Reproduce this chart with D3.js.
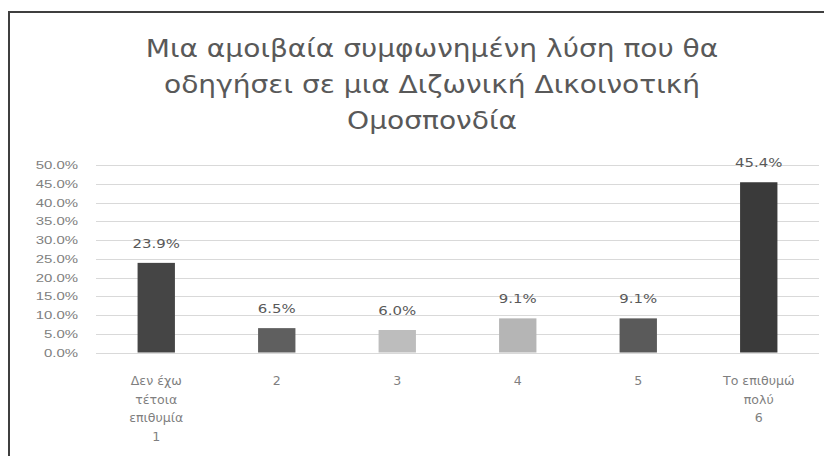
<!DOCTYPE html>
<html>
<head>
<meta charset="utf-8">
<script src="https://cdn.jsdelivr.net/npm/d3@7"></script>
<style>
  body { margin: 0; background: #fff; }
  svg { display: block; font-family: "DejaVu Sans", "Noto Sans", sans-serif; }
</style>
</head>
<body>
<div class="svg-mount"></div>
<script>
const titleLines = [
  "Μια αμοιβαία συμφωνημένη λύση που θα",
  "οδηγήσει σε μια Διζωνική Δικοινοτική",
  "Ομοσπονδία",
];
const categories = [
  ["Δεν έχω", "τέτοια", "επιθυμία", "1"],
  ["2"],
  ["3"],
  ["4"],
  ["5"],
  ["Το επιθυμώ", "πολύ", "6"],
];
const values = [23.9, 6.5, 6.0, 9.1, 9.1, 45.4];
const barColors = ["#454545", "#5f5f5f", "#bdbdbd", "#b5b5b5", "#5a5a5a", "#3a3a3a"];
const yTicks = [0, 5, 10, 15, 20, 25, 30, 35, 40, 45, 50];

const actual_width = 824;
const actual_height = 456;
const plot = { left: 96, right: 819, top: 165, bottom: 352.5 };
// the picture looks stretched sideways, so text is widened a bit
const stretch = 1.3;

const svg = d3
  .select(".svg-mount")
  .append("svg")
  .attr("width", actual_width)
  .attr("height", actual_height);

// chart frame (cropped at right and bottom in the picture)
svg
  .append("rect")
  .attr("x", 9)
  .attr("y", 12)
  .attr("width", 900)
  .attr("height", 500)
  .attr("fill", "#fff")
  .attr("stroke", "#3f3f3f")
  .attr("stroke-width", 2);

const x = d3
  .scaleBand()
  .domain(d3.range(values.length))
  .range([plot.left, plot.right])
  .paddingInner(0.69)
  .paddingOuter(0.345);

const y = d3.scaleLinear().domain([0, 50]).range([plot.bottom, plot.top]);

// title
svg
  .append("g")
  .selectAll("text")
  .data(titleLines)
  .join("text")
  .attr("text-anchor", "middle")
  .attr("fill", "#595959")
  .attr("font-size", 24)
  .attr("transform", (d, i) => `translate(432,${57 + i * 36}) scale(1.17,1)`)
  .text((d) => d);

// gridlines
svg
  .append("g")
  .selectAll("line")
  .data(yTicks)
  .join("line")
  .attr("x1", plot.left)
  .attr("x2", plot.right)
  .attr("y1", (d) => Math.round(y(d)) + 0.5)
  .attr("y2", (d) => Math.round(y(d)) + 0.5)
  .attr("stroke", "#d9d9d9")
  .attr("stroke-width", 1);

// y axis labels
const yAxis = d3
  .axisLeft(y)
  .tickValues(yTicks)
  .tickFormat((d) => d.toFixed(1) + "%")
  .tickSize(0)
  .tickPadding(0);
const yg = svg
  .append("g")
  .attr("transform", `translate(78,0)`)
  .call(yAxis);
yg.select(".domain").remove();
yg.selectAll("text")
  .attr("fill", "#7f7f7f")
  .attr("font-size", 11.5)
  .attr("font-family", "inherit")
  .attr("transform", `scale(${stretch},1)`);

// bars
svg
  .append("g")
  .selectAll("rect")
  .data(values)
  .join("rect")
  .attr("x", (d, i) => x(i))
  .attr("width", x.bandwidth())
  .attr("y", (d) => y(d))
  .attr("height", (d) => y(0) - y(d))
  .attr("fill", (d, i) => barColors[i]);

// data labels
svg
  .append("g")
  .selectAll("text")
  .data(values)
  .join("text")
  .attr(
    "transform",
    (d, i) => `translate(${x(i) + x.bandwidth() / 2},${y(d) - 15}) scale(${stretch},1)`
  )
  .attr("text-anchor", "middle")
  .attr("fill", "#595959")
  .attr("font-size", 11.5)
  .text((d) => d.toFixed(1) + "%");

// category labels
svg
  .append("g")
  .selectAll("g")
  .data(categories)
  .join("g")
  .attr("transform", (d, i) => `translate(${x(i) + x.bandwidth() / 2},0)`)
  .selectAll("text")
  .data((d) => d)
  .join("text")
  .attr("text-anchor", "middle")
  .attr("fill", "#7f7f7f")
  .attr("font-size", 12)
  .attr("transform", (d, j) => `translate(0,${385 + j * 18.5}) scale(1.05,1)`)
  .text((d) => d);
</script>
</body>
</html>
